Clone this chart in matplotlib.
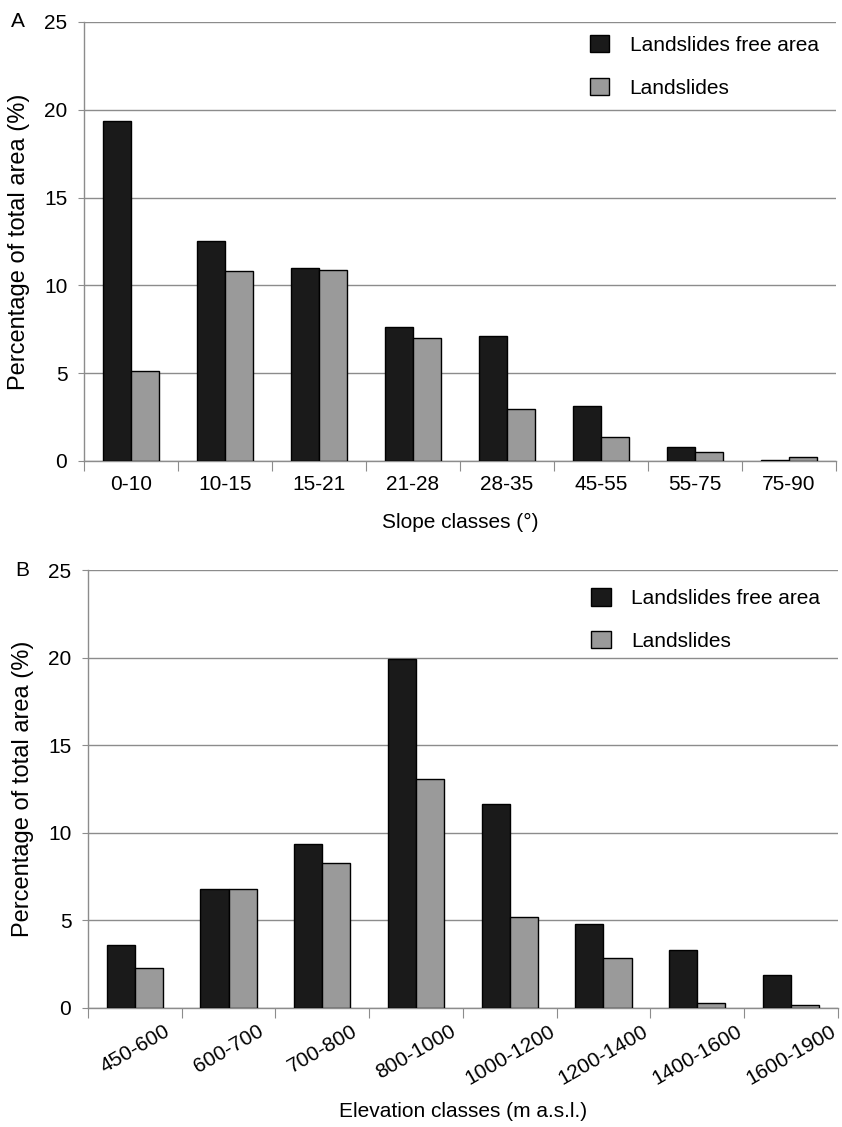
import matplotlib
matplotlib.use("Agg")
import matplotlib.pyplot as plt
import numpy as np

plt.rcParams["font.family"] = ["Liberation Sans", "DejaVu Sans"]

slope_classes = ["0-10", "10-15", "15-21", "21-28", "28-35", "45-55", "55-75", "75-90"]
slope_free = [19.35, 12.55, 11.0, 7.6, 7.1, 3.15, 0.82, 0.06]
slope_slides = [5.15, 10.8, 10.9, 7.0, 2.96, 1.35, 0.51, 0.21]

elev_classes = ["450-600", "600-700", "700-800", "800-1000", "1000-1200",
                "1200-1400", "1400-1600", "1600-1900"]
elev_free = [3.6, 6.8, 9.35, 19.9, 11.65, 4.81, 3.3, 1.87]
elev_slides = [2.28, 6.8, 8.3, 13.05, 5.2, 2.87, 0.28, 0.17]

black = "#1a1a1a"
gray = "#9a9a9a"
grid = "#8c8c8c"


def panel(ax, cats, free, slides, xlabel, letter, rot, leg_y, xpad):
    x = np.arange(len(cats))
    w = 0.3
    ax.bar(x - w / 2, free, w, color=black, edgecolor="black", linewidth=1.0,
           label="Landslides free area", zorder=3)
    ax.bar(x + w / 2, slides, w, color=gray, edgecolor="black", linewidth=1.0,
           label="Landslides", zorder=3)
    ax.set_xlim(-0.5, len(cats) - 0.5)
    ax.set_ylim(0, 25)
    ax.set_yticks([0, 5, 10, 15, 20, 25])
    ax.yaxis.grid(True, color=grid, linewidth=1.0, zorder=0)
    ax.set_axisbelow(True)
    for s in ["top", "right"]:
        ax.spines[s].set_visible(False)
    for s in ["left", "bottom"]:
        ax.spines[s].set_color(grid)
        ax.spines[s].set_linewidth(1.0)
    ax.set_xticks(np.arange(len(cats) + 1) - 0.5)
    ax.set_xticklabels([])
    ax.set_xticks(x, minor=True)
    if rot:
        ax.set_xticklabels(cats, minor=True, rotation=30, ha="center")
    else:
        ax.set_xticklabels(cats, minor=True)
    ax.tick_params(axis="x", which="major", length=7, color=grid, direction="out")
    ax.tick_params(axis="x", which="minor", length=0, labelsize=15, pad=10)
    ax.tick_params(axis="y", length=4, color=grid, labelsize=15, pad=8)
    ax.set_ylabel("Percentage of total area (%)", fontsize=17, labelpad=10)
    ax.set_xlabel(xlabel, fontsize=15, labelpad=xpad)
    ax.legend(loc="upper right", bbox_to_anchor=(0.988, leg_y), frameon=False,
              fontsize=15, handlelength=0.92, handleheight=0.92,
              labelspacing=1.1, handletextpad=1.0, borderaxespad=0)
    ax.text(-0.097, 1.0, letter, transform=ax.transAxes, fontsize=15,
            ha="left", va="center")


fig = plt.figure(figsize=(8.42, 11.27), dpi=100)
ax1 = fig.add_axes([0.0998, 0.591, 0.893, 0.3895])
ax2 = fig.add_axes([0.1045, 0.1056, 0.8905, 0.3886])

panel(ax1, slope_classes, slope_free, slope_slides, "Slope classes (°)", "A",
      False, 0.99, 14)
panel(ax2, elev_classes, elev_free, elev_slides, "Elevation classes (m a.s.l.)", "B",
      True, 0.978, 10)

fig.savefig("out.png", dpi=100)
